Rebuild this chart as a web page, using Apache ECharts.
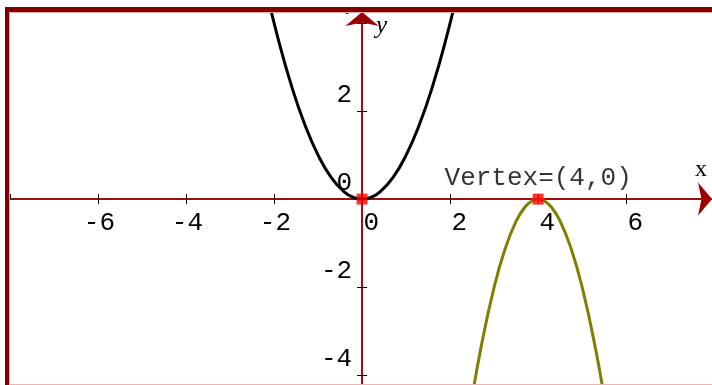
<!DOCTYPE html>
<html>
<head>
<meta charset="utf-8">
<script src="https://cdn.jsdelivr.net/npm/echarts@6/dist/echarts.min.js"></script>
<style>
html, body { margin: 0; padding: 0; background: #fff; }
#chart { width: 712px; height: 385px; }
</style>
</head>
<body>
<div id="chart"></div>
<script>
// black parabola (y = x^2)
const upX = [-2.2, -1.9, -1.6, -1.3, -1.0, -0.7, -0.4, -0.2, 0, 0.2, 0.4, 0.7, 1.0, 1.3, 1.6, 1.9, 2.2];
const upY = [4.84, 3.61, 2.56, 1.69, 1.0, 0.49, 0.16, 0.04, 0, 0.04, 0.16, 0.49, 1.0, 1.69, 2.56, 3.61, 4.84];
// olive parabola (vertex at 4,0)
const downX = [2.45, 2.7, 3.0, 3.25, 3.5, 3.7, 3.85, 4, 4.15, 4.3, 4.5, 4.75, 5.0, 5.3, 5.55];
const downY = [-4.8, -3.38, -2.0, -1.13, -0.5, -0.18, -0.05, 0, -0.05, -0.18, -0.5, -1.13, -2.0, -3.38, -4.8];
// red vertex points
const vertexX = [0, 4];
const vertexY = [0, 0];
const vertexText = ['', 'Vertex=(4,0)'];
// axes
const xRange = [-8, 7.95];
const yRange = [-4.2, 4.25];
const tickStep = 2;

const axisRed = '#9a0000';
const monoFont = 'Liberation Mono';

const gridBox = { left: 10, right: 0, top: 12, bottom: 1 };
const plotW = 712 - gridBox.left - gridBox.right;
const plotH = 385 - gridBox.top - gridBox.bottom;
// shift the axes so they cross at (0,0), labels and ticks included
const zeroFromLeft = plotW * (0 - xRange[0]) / (xRange[1] - xRange[0]);
const zeroFromBottom = plotH * (0 - yRange[0]) / (yRange[1] - yRange[0]);

const chart = echarts.init(document.getElementById('chart'));

function pairs(xs, ys) {
    return xs.map((x, i) => [x, ys[i]]);
}

const xBase = {
    type: 'value',
    min: xRange[0],
    max: xRange[1],
    interval: tickStep,
    splitLine: { show: false },
    axisLine: { onZero: false, lineStyle: { color: axisRed, width: 1.5 } },
    axisTick: { length: 5, lineStyle: { color: '#000', width: 1 } }
};
const yBase = {
    type: 'value',
    min: yRange[0],
    max: yRange[1],
    splitNumber: 4,
    splitLine: { show: false },
    axisLine: { onZero: false, lineStyle: { color: axisRed, width: 1.5 } },
    axisTick: { length: 5, lineStyle: { color: '#000', width: 1 } }
};

const option = {
    animation: false,
    backgroundColor: '#fff',
    grid: Object.assign({ containLabel: false, outerBoundsMode: 'none' }, gridBox),
    xAxis: [
        Object.assign({}, xBase, {
            position: 'bottom',
            offset: -zeroFromBottom,
            axisLine: Object.assign({}, xBase.axisLine, { symbol: ['none', 'arrow'], symbolSize: [25, 14] }),
            axisLabel: {
                showMinLabel: false,
                showMaxLabel: false,
                align: 'right',
                padding: [0, -17, 0, 0],
                margin: 11,
                color: '#000',
                fontFamily: monoFont,
                fontSize: 26
            }
        }),
        Object.assign({}, xBase, {
            position: 'top',
            offset: -(plotH - zeroFromBottom),
            axisLabel: { show: false }
        })
    ],
    yAxis: [
        Object.assign({}, yBase, {
            position: 'left',
            offset: -zeroFromLeft,
            axisLine: Object.assign({}, yBase.axisLine, { symbol: ['none', 'arrow'], symbolSize: [25, 14] }),
            axisLabel: {
                showMinLabel: false,
                showMaxLabel: false,
                align: 'right',
                verticalAlign: 'bottom',
                padding: [0, 0, 3, 0],
                margin: 10,
                color: '#000',
                fontFamily: monoFont,
                fontSize: 26
            }
        }),
        Object.assign({}, yBase, {
            position: 'right',
            offset: -(plotW - zeroFromLeft),
            axisLabel: { show: false }
        })
    ],
    series: [
        {
            type: 'line',
            data: pairs(upX, upY),
            smooth: true,
            symbol: 'none',
            lineStyle: { color: '#000', width: 3 },
            z: 3
        },
        {
            type: 'line',
            data: pairs(downX, downY),
            smooth: true,
            symbol: 'none',
            lineStyle: { color: '#808000', width: 3 },
            z: 3
        },
        {
            type: 'scatter',
            symbol: 'rect',
            symbolSize: 11,
            itemStyle: { color: '#ff0000' },
            z: 5,
            data: vertexX.map((x, i) => ({
                value: [x, vertexY[i]],
                label: {
                    show: vertexText[i] !== '',
                    formatter: vertexText[i],
                    position: 'top',
                    distance: 2,
                    color: '#000',
                    fontFamily: monoFont,
                    fontSize: 26
                }
            }))
        }
    ],
    graphic: [
        { type: 'text', left: 695, top: 158, z: 50, style: { text: 'x', fill: '#000', font: '24px "Liberation Serif"' } },
        { type: 'text', left: 376, top: 14, z: 50, style: { text: 'y', fill: '#000', font: 'italic 25px "Liberation Serif"' } },
        // frame
        { type: 'rect', left: 0, top: 0, z: 90, shape: { width: 712, height: 7 }, style: { fill: '#fff' } },
        { type: 'rect', left: 0, top: 0, z: 90, shape: { width: 5, height: 385 }, style: { fill: '#fff' } },
        { type: 'rect', left: 5, top: 7, z: 91, shape: { width: 707, height: 5 }, style: { fill: '#800000' } },
        { type: 'rect', left: 5, top: 7, z: 91, shape: { width: 4, height: 378 }, style: { fill: '#800000' } },
        { type: 'rect', left: 9, top: 12, z: 91, shape: { width: 703, height: 1 }, style: { fill: '#e3a9a9' } },
        { type: 'rect', left: 9, top: 12, z: 91, shape: { width: 1, height: 373 }, style: { fill: '#e3a9a9' } },
        { type: 'rect', left: 9, top: 384, z: 91, shape: { width: 703, height: 1 }, style: { fill: '#e8b4b4' } }
    ]
};

chart.setOption(option);
window.addEventListener('resize', function () {
    chart.resize();
});
</script>
</body>
</html>
